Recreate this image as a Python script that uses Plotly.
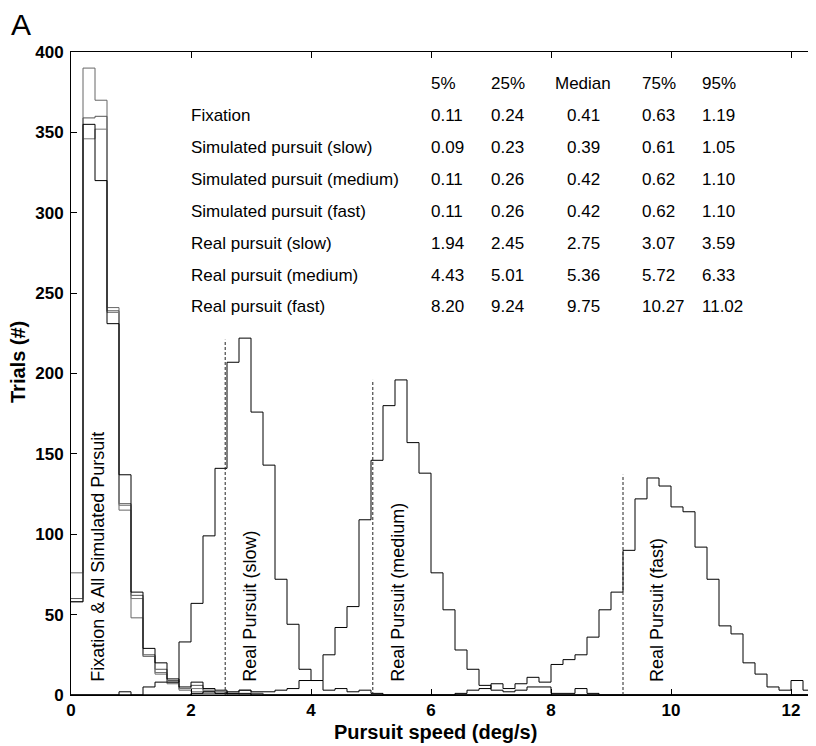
import plotly.graph_objects as go

# ---------------- data ----------------
bin_edges = [0.0, 0.2, 0.4, 0.6, 0.8, 1.0, 1.2, 1.4, 1.6, 1.8, 2.0, 2.2, 2.4, 2.6, 2.8,
             3.0, 3.2, 3.4, 3.6, 3.8, 4.0, 4.2, 4.4, 4.6, 4.8, 5.0, 5.2, 5.4, 5.6, 5.8,
             6.0, 6.2, 6.4, 6.6, 6.8, 7.0, 7.2, 7.4, 7.6, 7.8, 8.0, 8.2, 8.4, 8.6, 8.8,
             9.0, 9.2, 9.4, 9.6, 9.8, 10.0, 10.2, 10.4, 10.6, 10.8, 11.0, 11.2, 11.4,
             11.6, 11.8, 12.0, 12.2, 12.4]

fixation = [58, 355, 320, 231, 137, 64, 29, 20, 10, 5, 8, 4, 3, 1, 1, 0,
            0, 0, 0, 0, 0, 0, 0, 0, 0, 0, 0, 0, 0, 0, 0, 0, 0, 0, 0, 0, 0, 0, 0, 0,
            0, 0, 0, 0, 0, 0, 0, 0, 0, 0, 0, 0, 0, 0, 0, 0, 0, 0, 0, 0, 0, 0]
sim_slow = [76, 390, 370, 241, 115, 48, 24, 13, 7, 3, 2, 1, 1, 0, 0, 1,
            0, 0, 0, 0, 0, 0, 0, 0, 0, 0, 0, 0, 0, 0, 0, 0, 0, 0, 0, 0, 0, 0, 0, 0,
            0, 0, 0, 0, 0, 0, 0, 0, 0, 0, 0, 0, 0, 0, 0, 0, 0, 0, 0, 0, 0, 0]
sim_medium = [60, 359, 360, 239, 119, 62, 25, 16, 9, 4, 6, 3, 2, 1, 3, 1,
              0, 0, 0, 0, 0, 0, 0, 0, 0, 0, 0, 0, 0, 0, 0, 0, 0, 0, 0, 0, 0, 0, 0, 0,
              0, 0, 0, 0, 0, 0, 0, 0, 0, 0, 0, 0, 0, 0, 0, 0, 0, 0, 0, 0, 0, 0]
sim_fast = [58, 346, 352, 238, 118, 60, 24, 14, 8, 4, 4, 2, 1, 1, 0, 0,
            0, 0, 0, 0, 0, 0, 0, 0, 0, 0, 0, 0, 0, 0, 0, 0, 0, 0, 0, 0, 0, 0, 0, 0,
            0, 0, 0, 0, 0, 0, 0, 0, 0, 0, 0, 0, 0, 0, 0, 0, 0, 0, 0, 0, 0, 0]
real_slow = [0, 0, 0, 0, 2, 0, 5, 8, 8, 33, 57, 99, 141, 207, 222, 176,
             143, 72, 44, 16, 9, 3, 4, 2, 3, 1, 0, 0, 0, 0, 0, 0, 0, 0, 0, 0, 0, 0, 0, 0,
             0, 0, 0, 0, 0, 0, 0, 0, 0, 0, 0, 0, 0, 0, 0, 0, 0, 0, 0, 0, 0, 0]
real_medium = [0, 0, 0, 0, 0, 0, 0, 0, 0, 0, 1, 2, 1, 2, 3, 2,
               2, 3, 4, 9, 9, 25, 42, 55, 109, 146, 180, 196, 157, 138, 76, 53,
               28, 16, 6, 3, 2, 3, 5, 5, 1, 1, 4, 1, 0, 0, 0, 0, 0, 0, 0, 0,
               0, 0, 0, 0, 0, 0, 0, 0, 0, 0]
real_fast = [0, 0, 0, 0, 0, 0, 0, 0, 0, 0, 0, 0, 0, 0, 0, 0,
             0, 0, 0, 0, 0, 0, 0, 0, 0, 0, 0, 0, 0, 0, 0, 0,
             1, 3, 4, 7, 4, 7, 11, 8, 19, 22, 25, 36, 53, 64, 90, 122,
             135, 130, 117, 114, 92, 72, 43, 38, 20, 13, 5, 3, 9, 3]

marker_x = [2.57, 5.03, 9.2]
marker_top = [221, 196, 137]

region_labels = ["Fixation & All Simulated Pursuit", "Real Pursuit (slow)",
                 "Real Pursuit (medium)", "Real Pursuit (fast)"]
region_label_x = [0.45, 2.99, 5.46, 9.77]

table_rows = ["Fixation", "Simulated pursuit (slow)", "Simulated pursuit (medium)",
              "Simulated pursuit (fast)", "Real pursuit (slow)", "Real pursuit (medium)",
              "Real pursuit (fast)"]
table_cols = ["5%", "25%", "Median", "75%", "95%"]
table_vals = [
    ["0.11", "0.24", "0.41", "0.63", "1.19"],
    ["0.09", "0.23", "0.39", "0.61", "1.05"],
    ["0.11", "0.26", "0.42", "0.62", "1.10"],
    ["0.11", "0.26", "0.42", "0.62", "1.10"],
    ["1.94", "2.45", "2.75", "3.07", "3.59"],
    ["4.43", "5.01", "5.36", "5.72", "6.33"],
    ["8.20", "9.24", "9.75", "10.27", "11.02"],
]

x_ticks = [0, 2, 4, 6, 8, 10, 12]
y_ticks = [0, 50, 100, 150, 200, 250, 300, 350, 400]

# ---------------- figure ----------------
# the page adds an 8px body margin; layout numbers below are screen pixels
OFF = 8
W, H = 816, 746
ML, MR, MT, MB = 63, 9, 44, 59
PW, PH = W - ML - MR, H - MT - MB
FONT = "Liberation Sans, Arial, sans-serif"


def px(xs):
    return (xs - OFF - ML) / PW


def py(ys):
    return (H - MB - (ys - OFF)) / PH


fig = go.Figure()

series = [
    (sim_slow, "#666666"),
    (sim_medium, "#555555"),
    (sim_fast, "#777777"),
    (fixation, "#000000"),
    (real_slow, "#000000"),
    (real_medium, "#000000"),
    (real_fast, "#000000"),
]
for vals, col in series:
    fig.add_trace(go.Scatter(
        x=bin_edges, y=vals + [vals[-1]], mode="lines",
        line=dict(shape="hv", color=col, width=1),
        hoverinfo="skip", showlegend=False))

for xv, top in zip(marker_x, marker_top):
    fig.add_trace(go.Scatter(
        x=[xv, xv], y=[0, top], mode="lines",
        line=dict(color="#222222", width=1, dash="3px,2px"),
        hoverinfo="skip", showlegend=False))

annotations = []
for txt, xv in zip(region_labels, region_label_x):
    annotations.append(dict(
        x=xv, y=7, xref="x", yref="y", text=txt, textangle=-90,
        showarrow=False, xanchor="center", yanchor="bottom",
        font=dict(family=FONT, size=18, color="black")))

# table (screen pixel positions)
row_y0 = 116
row_dy = 31.8
header_y = 84
label_x = 189
col_x = [429, 489, 583, 640, 700]
col_anchor = ["left", "left", "center", "left", "left"]
tfont = dict(family=FONT, size=17, color="black")
for j, h in enumerate(table_cols):
    annotations.append(dict(x=px(col_x[j]), y=py(header_y), xref="paper", yref="paper",
                            text=h, showarrow=False, xanchor=col_anchor[j],
                            yanchor="middle", font=tfont))
for i, r in enumerate(table_rows):
    yy = py(row_y0 + i * row_dy)
    annotations.append(dict(x=px(label_x), y=yy, xref="paper", yref="paper", text=r,
                            showarrow=False, xanchor="left", yanchor="middle", font=tfont))
    for j, v in enumerate(table_vals[i]):
        annotations.append(dict(x=px(col_x[j]), y=yy, xref="paper", yref="paper",
                                text=v, showarrow=False, xanchor=col_anchor[j],
                                yanchor="middle", font=tfont))

# panel letter
annotations.append(dict(x=px(9), y=py(6), xref="paper", yref="paper", text="A",
                        showarrow=False, xanchor="left", yanchor="top",
                        font=dict(family=FONT, size=30, color="black")))
# axis titles
annotations.append(dict(x=px(435), y=py(732), xref="paper", yref="paper",
                        text="<b>Pursuit speed (deg/s)</b>", showarrow=False,
                        xanchor="center", yanchor="middle",
                        font=dict(family=FONT, size=20, color="black")))
annotations.append(dict(x=px(18), y=py(362), xref="paper", yref="paper",
                        text="<b>Trials (#)</b>", showarrow=False, textangle=-90,
                        xanchor="center", yanchor="middle",
                        font=dict(family=FONT, size=20, color="black")))

axis_common = dict(
    showline=True, linecolor="black", linewidth=1, mirror="ticks",
    ticks="inside", ticklen=6, tickcolor="black", tickwidth=1,
    showgrid=False, zeroline=False,
    tickfont=dict(family=FONT, size=17, color="black", weight="bold"),
)

fig.update_layout(
    width=W, height=H,
    margin=dict(l=ML, r=MR, t=MT, b=MB),
    paper_bgcolor="white", plot_bgcolor="white",
    annotations=annotations,
    xaxis=dict(range=[0, 12.4], tickvals=x_ticks, **axis_common),
    yaxis=dict(range=[0, 400], tickvals=y_ticks, ticklabelstandoff=3, **axis_common),
)

fig.write_html("out.html")
